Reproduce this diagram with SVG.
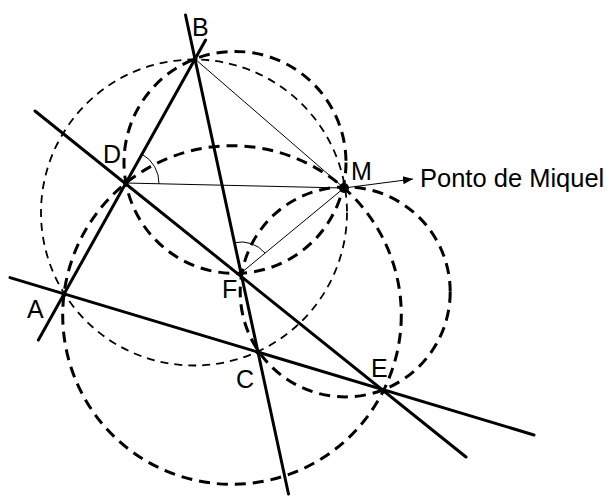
<svg xmlns="http://www.w3.org/2000/svg" width="610" height="500" viewBox="0 0 610 500">
<defs>
<style>
.thick{stroke:#000;stroke-width:3;fill:none;stroke-linecap:round}
.thin{stroke:#000;stroke-width:1;fill:none}
.dthick{stroke:#000;stroke-width:3;fill:none;stroke-dasharray:11 7}
.dthin{stroke:#000;stroke-width:1.8;fill:none;stroke-dasharray:8 6}
.lbl{font-family:"Liberation Sans",Arial,sans-serif;font-size:25px;fill:#000}
</style>
<marker id="arr" viewBox="0 0 10 10" refX="10" refY="5" markerWidth="10" markerHeight="10" markerUnits="userSpaceOnUse" orient="auto">
<path d="M0,1 L10,5 L0,9 Z" fill="#000"/>
</marker>
</defs>
<rect width="610" height="500" fill="#fff"/>
<g id="circles">
<circle id="circle-ABC" class="dthin" cx="194" cy="212.5" r="153"/>
<circle id="circle-BDF" class="dthick" cx="235" cy="162.4" r="111"/>
<circle id="circle-ADE" class="dthick" cx="232" cy="315" r="169.3"/>
<circle id="circle-CFE" class="dthick" cx="345.2" cy="291.9" r="105"/>
</g>
<g id="connectors">
<line class="thick" x1="38.4" y1="340" x2="205.6" y2="40"/>
<line class="thick" x1="185.5" y1="15" x2="288.5" y2="494"/>
<line class="thick" x1="35" y1="111" x2="466" y2="457"/>
<line class="thick" x1="10" y1="277.6" x2="534" y2="435"/>
<line class="thin" x1="195" y1="59" x2="344" y2="188"/>
<line class="thin" x1="126" y1="183" x2="344" y2="188"/>
<line class="thin" x1="241" y1="273" x2="344" y2="188"/>
<line class="thin" x1="344" y1="188" x2="413" y2="179" stroke-width="1.3" marker-end="url(#arr)"/>
<path class="thin" d="M142,154.2 A33,33 0 0 1 159,183.8"/>
<path class="thin" d="M234.5,242.7 A31,31 0 0 1 265,253"/>
</g>
<g id="node-B"><circle cx="195" cy="59" r="2.5"/><text class="lbl" x="192" y="36">B</text></g>
<g id="node-D"><circle cx="126" cy="183" r="2.5"/><text class="lbl" x="103" y="163">D</text></g>
<g id="node-M"><circle cx="344" cy="188" r="5"/><text class="lbl" x="351" y="180">M</text></g>
<g id="node-F"><circle cx="241" cy="273" r="2.5"/><text class="lbl" x="222" y="298">F</text></g>
<g id="node-A"><circle cx="64" cy="294" r="2.5"/><text class="lbl" x="27" y="318">A</text></g>
<g id="node-C"><circle cx="258" cy="352" r="2.5"/><text class="lbl" x="236" y="388">C</text></g>
<g id="node-E"><circle cx="383" cy="391" r="2.5"/><text class="lbl" x="371" y="377">E</text></g>
<g id="label-miquel"><text class="lbl" x="420" y="187" style="font-size:25.5px">Ponto de Miquel</text></g>
</svg>
